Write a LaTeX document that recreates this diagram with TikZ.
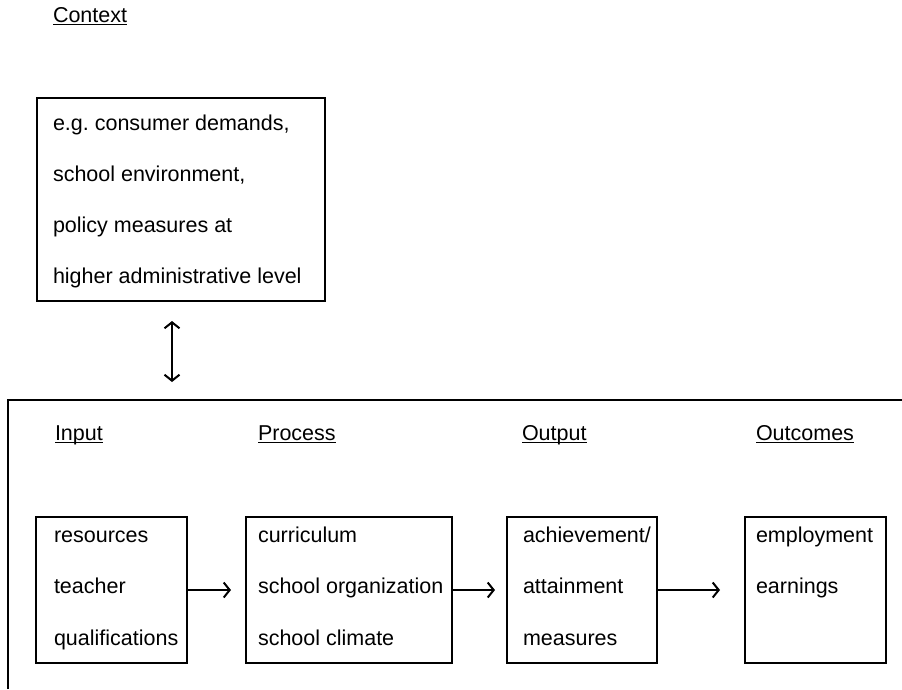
\documentclass[tikz,border=0pt]{standalone}
\usepackage{fontspec}
\setmainfont{Liberation Sans}
\usetikzlibrary{arrows.meta}
\frenchspacing
\begin{document}
\begin{tikzpicture}[x=1pt,y=-1pt,
  every node/.style={inner sep=0pt, outer sep=0pt, font=\fontsize{21.5}{26}\selectfont},
  txt/.style={anchor=base west},
  hdr/.style={anchor=base west},
  boxx/.style={draw, line width=2.2pt, anchor=north west},
  conn/.style={line width=2.2pt, -{Straight Barb[length=6pt,width=15pt,line width=2pt]}},
  dconn/.style={line width=2.2pt, {Straight Barb[length=6pt,width=15pt,line width=2pt]}-{Straight Barb[length=6pt,width=15pt,line width=2pt]}},
  uline/.style={line width=1.2pt}]
\useasboundingbox (0,0) rectangle (902,689);
\fill[white] (0,0) rectangle (902,689);

% Context
\node[hdr] (hctx) at (53,22) {Context};
\draw[uline] ([yshift=-2.5pt]hctx.base west) -- ([yshift=-2.5pt]hctx.base east);
\node[boxx, minimum width=288pt, minimum height=203pt] (ctx) at (37,98) {};
\node[txt] (c1) at (53,130) {e.g. consumer demands,};
\node[txt] (c2) at (53,181) {school environment,};
\node[txt] (c3) at (53,232) {policy measures at};
\node[txt] (c4) at (53,283) {higher administrative level};

% double arrow
\coordinate (da) at (172,321);
\coordinate (db) at (172,382);
\draw[dconn] (da) -- (db);

% frame
\coordinate (f1) at (8,689);
\coordinate (f2) at (8,400);
\coordinate (f3) at (902,400);
\draw[line width=2.2pt] (f1) -- (f2) -- (f3);

% headers
\node[hdr] (hin) at (55,440) {Input};
\node[hdr] (hpr) at (258,440) {Process};
\node[hdr] (hout) at (522,440) {Output};
\node[hdr] (hoc) at (756,440) {Outcomes};
\foreach \h in {hin,hpr,hout,hoc}
  \draw[uline] ([yshift=-2.5pt]\h.base west) -- ([yshift=-2.5pt]\h.base east);

% boxes
\node[boxx, minimum width=151pt, minimum height=146pt] (inp) at (36,517) {};
\node[boxx, minimum width=206pt, minimum height=146pt] (proc) at (246,517) {};
\node[boxx, minimum width=150pt, minimum height=146pt] (outp) at (507,517) {};
\node[boxx, minimum width=141pt, minimum height=146pt] (outc) at (745,517) {};

% box texts
\node[txt] (i1) at (54,542) {resources};
\node[txt] (i2) at (54,593) {teacher};
\node[txt] (i3) at (54,645) {qualifications};
\node[txt] (p1) at (258,542) {curriculum};
\node[txt] (p2) at (258,593) {school organization};
\node[txt] (p3) at (258,645) {school climate};
\node[txt] (o1) at (523,542) {achievement/};
\node[txt] (o2) at (523,593) {attainment};
\node[txt] (o3) at (523,645) {measures};
\node[txt] (u1) at (756,542) {employment};
\node[txt] (u2) at (756,593) {earnings};

% connectors
\draw[conn] (inp.east) -- ([xshift=-15pt]proc.west);
\draw[conn] (proc.east) -- ([xshift=-12pt]outp.west);
\draw[conn] (outp.east) -- ([xshift=-25pt]outc.west);
\end{tikzpicture}
\end{document}
